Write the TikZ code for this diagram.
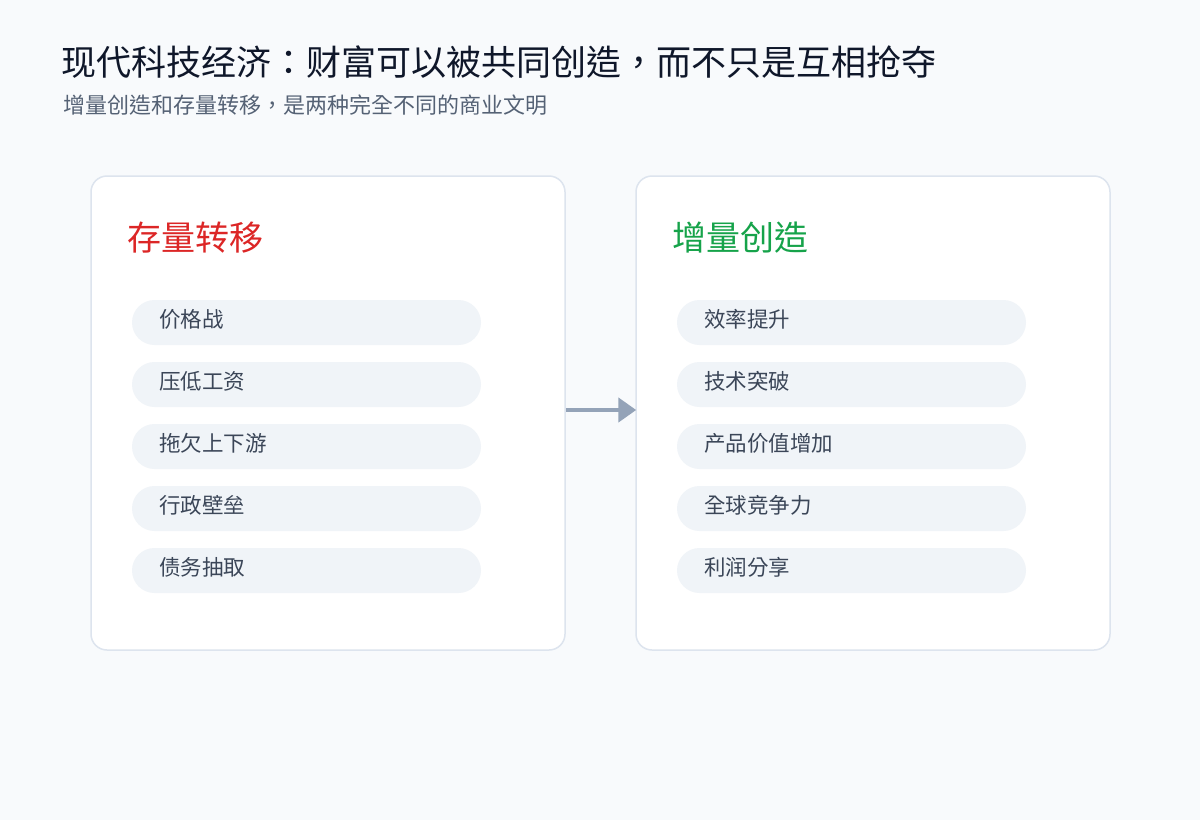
\documentclass[tikz,border=0pt]{standalone}
\usepackage{fontspec}
\setmainfont{Noto Sans CJK TC}
\usetikzlibrary{arrows.meta}
\definecolor{bg}{HTML}{F8FAFC}
\definecolor{cardborder}{HTML}{DDE4EE}
\definecolor{pillfill}{HTML}{F0F4F8}
\definecolor{titlec}{HTML}{0F172A}
\definecolor{subc}{HTML}{556275}
\definecolor{itemc}{HTML}{3B4658}
\definecolor{redc}{HTML}{DC2626}
\definecolor{greenc}{HTML}{16A34A}
\definecolor{arrowc}{HTML}{94A3B8}
\tikzset{
  card/.style={draw=cardborder, line width=1.5pt, fill=white, rounded corners=16pt, minimum width=474pt, minimum height=474pt, inner sep=0pt},
  pill/.style={fill=pillfill, rounded corners=22.5pt, minimum width=349pt, minimum height=45pt, inner sep=0pt},
  itemtext/.style={anchor=west, inner sep=0pt, text=itemc, font=\fontsize{21.5}{25}\selectfont},
  cardtitle/.style={anchor=west, inner sep=0pt, font=\fontsize{34}{38}\selectfont},
}
\begin{document}
\begin{tikzpicture}[x=1pt,y=-1pt]
\fill[bg] (0,0) rectangle (1200,820);
\useasboundingbox (0,0) rectangle (1200,820);
\node[anchor=west, inner sep=0pt, text=titlec, font=\fontsize{35}{40}\selectfont] (title) at (61,62) {现代科技经济：财富可以被共同创造，而不只是互相抢夺};
\node[anchor=west, inner sep=0pt, text=subc, font=\fontsize{22}{26}\selectfont] (subtitle) at (63,105) {增量创造和存量转移，是两种完全不同的商业文明};
% cards
\node[card] (left) at (328,413) {};
\node[card] (right) at (873,413) {};
\node[cardtitle, text=redc] (lt) at (127,238) {存量转移};
\node[cardtitle, text=greenc] (rt) at (672,238) {增量创造};
% left pills
\foreach \i/\t in {0/价格战,1/压低工资,2/拖欠上下游,3/行政壁垒,4/债务抽取}{
  \node[pill] (lp\i) at (306.5,322.5+62*\i) {};
  \node[itemtext] (lpt\i) at (159,319+62*\i) {\t};
}
\foreach \i/\t in {0/效率提升,1/技术突破,2/产品价值增加,3/全球竞争力,4/利润分享}{
  \node[pill] (rp\i) at (851.5,322.5+62*\i) {};
  \node[itemtext] (rpt\i) at (704,319+62*\i) {\t};
}
\draw[arrowc, line width=4.5pt, -{Triangle[length=18pt,width=24pt]}, shorten >=-1pt] (left.east |- 0,410) -- (right.west |- 0,410);
\end{tikzpicture}
\end{document}
